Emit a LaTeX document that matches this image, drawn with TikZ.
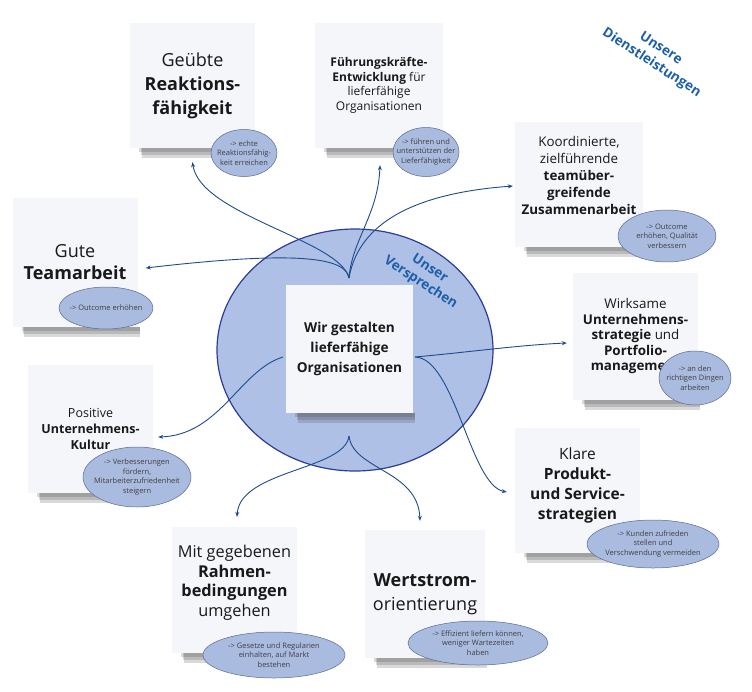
\documentclass[tikz,border=0pt]{standalone}
\usepackage{fontspec}
\setmainfont{Open Sans}
\usetikzlibrary{arrows.meta,shapes.geometric,backgrounds}

\definecolor{notefill}{RGB}{245,246,249}
\definecolor{bubblefill}{RGB}{170,187,224}
\definecolor{bubbledraw}{RGB}{90,105,150}
\definecolor{corefill}{RGB}{174,192,230}
\definecolor{coredraw}{RGB}{45,60,150}
\definecolor{flowblue}{RGB}{30,75,140}
\definecolor{titleblue}{RGB}{30,95,170}
\definecolor{inktext}{RGB}{25,25,25}

\begin{document}
\begin{tikzpicture}[x=1pt,y=-1pt,
    note/.style={fill=notefill, minimum width=125pt, minimum height=125pt,
        align=center, inner sep=2pt, text=inktext},
    bubble/.style={ellipse, draw=bubbledraw, line width=0.5pt, fill=bubblefill, inner sep=0pt},
    bubbletext/.style={align=center, text=black!75, font=\fontsize{7.5}{9.5}\selectfont},
    flow/.style={draw=flowblue, line width=0.9pt, -{Stealth[length=5pt,width=4pt]}},
    noteshadow/.style={fill=black!75, opacity=0.2},
    heading/.style={align=center, text=titleblue, rotate=-33,
        font=\bfseries\fontsize{13.5}{17}\selectfont}]
    \useasboundingbox (0,0) rectangle (752,691);

    % Sticky notes
    \node[note, font=\fontsize{18}{24}\selectfont] (geuebt) at (192.5,85.5)
        {Geübte\\\textbf{Reaktions-}\\\textbf{fähigkeit}};
    \node[note, minimum width=128pt, font=\fontsize{12}{14.5}\selectfont] (fuehrung) at (379,85.5)
        {\textbf{Führungskräfte-}\\\textbf{Entwicklung} für\\lieferfähige\\Organisationen};
    \node[note, minimum width=128pt, text depth=18pt, font=\fontsize{13.4}{17}\selectfont] (koord) at (579,184.5)
        {Koordinierte,\\zielführende\\\textbf{teamüber-}\\\textbf{greifende}\\\textbf{Zusammenarbeit}};
    \node[note, minimum height=129pt, font=\fontsize{18}{22}\selectfont] (team) at (75,262.5)
        {Gute\\\textbf{Teamarbeit}};
    \node[note, minimum height=127pt, font=\fontsize{13.4}{15.5}\selectfont] (strat) at (635.5,336.5)
        {Wirksame\\\textbf{Unternehmens-}\\\textbf{strategie} und\\\textbf{Portfolio-}\\\textbf{management}};
    \node[note, minimum width=127pt, minimum height=128pt, font=\bfseries\fontsize{13.6}{20}\selectfont] (kern) at (349.5,349)
        {Wir gestalten\\lieferfähige\\Organisationen};
    \node[note, minimum height=128pt, font=\fontsize{12.5}{16}\selectfont] (kultur) at (90.5,429)
        {Positive\\\textbf{Unternehmens-}\\\textbf{Kultur}};
    \node[note, text depth=14pt, font=\fontsize{15.5}{20}\selectfont] (produkt) at (577.5,490.5)
        {Klare\\\textbf{Produkt-}\\\textbf{und Service-}\\\textbf{strategien}};
    \node[note, minimum height=126pt, text depth=18pt, font=\fontsize{16.3}{19.5}\selectfont] (rahmen) at (234.5,590)
        {Mit gegebenen\\\textbf{Rahmen-}\\\textbf{bedingungen}\\umgehen};
    \node[note, minimum width=120pt, minimum height=128pt, font=\fontsize{18}{24}\selectfont] (wert) at (425,594)
        {\textbf{Wertstrom-}\\orientierung};

    % Bubbles
    \node[bubble, minimum width=66pt, minimum height=47pt,
        label={[bubbletext]center:{-> echte\\Reaktionsfähig-\\keit erreichen}}] (geuebtE) at (244,153) {};
    \node[bubble, minimum width=66pt, minimum height=49pt,
        label={[bubbletext]center:{-> führen und\\unterstützen der\\Lieferfähigkeit}}] (fuehrungE) at (426,152) {};
    \node[bubble, minimum width=98pt, minimum height=52pt,
        label={[bubbletext]center:{-> Outcome\\erhöhen, Qualität\\verbessern}}] (koordE) at (667,236) {};
    \node[bubble, minimum width=94pt, minimum height=42pt,
        label={[bubbletext]center:{-> Outcome erhöhen}}] (teamE) at (106,308) {};
    \node[bubble, minimum width=72pt, minimum height=54pt,
        label={[bubbletext]center:{-> an den\\richtigen Dingen\\arbeiten}}] (stratE) at (695,378) {};
    \node[bubble, minimum width=108pt, minimum height=60pt,
        label={[bubbletext]center:{-> Verbesserungen\\fördern,\\Mitarbeiterzufriedenheit\\steigern}}] (kulturE) at (137,477) {};
    \node[bubble, minimum width=132pt, minimum height=48pt,
        label={[bubbletext]center:{-> Kunden zufrieden\\stellen und\\Verschwendung vermeiden}}] (produktE) at (653,544) {};
    \node[bubble, minimum width=142pt, minimum height=46pt,
        label={[bubbletext]center:{-> Gesetze und Regularien\\einhalten, auf Markt\\bestehen}}] (rahmenE) at (274,655) {};
    \node[bubble, minimum width=140pt, minimum height=44pt,
        label={[bubbletext]center:{-> Effizient liefern können,\\weniger Wartezeiten\\haben}}] (wertE) at (478,643) {};

    % Headings
    \node[heading] (versprechen) at (425,276) {Unser\\Versprechen};
    \node[heading] (dienste) at (656,56) {Unsere\\Dienstleistungen};

    % Connectors
    \coordinate (ctop) at (349,278);
    \coordinate (cbot) at (349,436);
    \coordinate (cleft) at (283,357);
    \coordinate (cright) at (415,357);

    \draw[flow] (ctop) .. controls (346,258) and (300,250) .. ([xshift=8pt,yshift=-5.5pt]team.east);
    \draw[flow] (ctop) .. controls (340,240) and (200,215) .. ([yshift=-14pt]geuebt.south);
    \draw[flow] (ctop) .. controls (352,240) and (378,215) .. ([xshift=1pt,yshift=-17pt]fuehrung.south);
    \draw[flow] (ctop) .. controls (356,238) and (390,195) .. ([xshift=-2pt,yshift=-1.5pt]koord.west);
    \draw[flow] (cright) .. controls (470,352) and (520,345) .. ([xshift=-6pt,yshift=-6.5pt]strat.west);
    \draw[flow] (cright) .. controls (455,358) and (470,485) .. ([xshift=-8pt,yshift=-1.5pt]produkt.west);
    \draw[flow] (cleft) .. controls (240,370) and (220,435) .. ([xshift=5pt,yshift=-8pt]kultur.east);
    \draw[flow] (cbot) .. controls (345,470) and (240,470) .. ([xshift=2.5pt,yshift=10pt]rahmen.north);
    \draw[flow] (cbot) .. controls (353,470) and (418,470) .. ([xshift=-5pt,yshift=9pt]wert.north);

    % Promise ellipse and note shadows
    \begin{pgfonlayer}{background}
        \node[ellipse, draw=coredraw, line width=1.2pt, fill=corefill,
            minimum width=276pt, minimum height=242pt] (promise) at (355,350) {};
        \foreach \n in {geuebt,fuehrung,koord,team,strat,kern,kultur,produkt,rahmen,wert}
            \foreach \d in {4,7,10}
                \fill[noteshadow] ([xshift=8pt+\d*0.4pt]\n.south west) rectangle ([xshift=2pt,yshift=-\d pt]\n.south east);
    \end{pgfonlayer}
\end{tikzpicture}
\end{document}
